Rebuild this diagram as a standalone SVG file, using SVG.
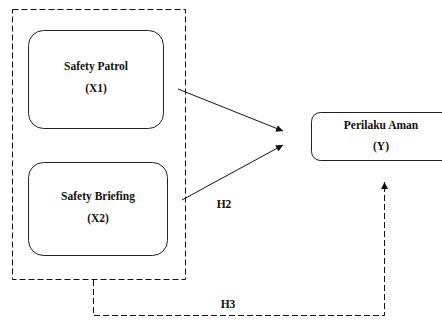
<svg xmlns="http://www.w3.org/2000/svg" width="442" height="320" viewBox="0 0 442 320">
  <style>
    .node { fill: #ffffff; stroke: #222222; stroke-width: 1; }
    .lbl { font-family: "Liberation Serif", "Times New Roman", serif; font-weight: bold; font-size: 11.5px; fill: #111111; text-anchor: middle; }
    .edge { fill: none; stroke: #111111; stroke-width: 1; }
    .dash { fill: none; stroke: #111111; stroke-width: 1; stroke-dasharray: 6,3; }
  </style>
  <defs>
    <marker id="arrow" viewBox="0 0 10 10" refX="10" refY="5" markerWidth="7" markerHeight="7" markerUnits="userSpaceOnUse" orient="auto">
      <path d="M0,0 L10,5 L0,10 Z" fill="#111111"/>
    </marker>
  </defs>
  <rect width="442" height="320" fill="#ffffff"/>

  <!-- dashed grouping frame around the independent variables -->
  <g id="group-x">
    <rect class="dash" x="12.5" y="9.5" width="173" height="270"/>
  </g>

  <g id="node-x1">
    <rect class="node" x="28.5" y="30.5" width="135" height="98" rx="15"/>
    <text class="lbl" x="96" y="70">Safety Patrol</text>
    <text class="lbl" x="96" y="92">(X1)</text>
  </g>

  <g id="node-x2">
    <rect class="node" x="28.5" y="162.5" width="139" height="93" rx="15"/>
    <text class="lbl" x="98" y="200">Safety Briefing</text>
    <text class="lbl" x="98" y="222">(X2)</text>
  </g>

  <g id="node-y">
    <rect class="node" x="311.5" y="112.5" width="140" height="48" rx="9"/>
    <text class="lbl" x="381" y="129">Perilaku Aman</text>
    <text class="lbl" x="381" y="150">(Y)</text>
  </g>

  <g id="connectors">
    <line class="edge" x1="178" y1="89" x2="283" y2="131" marker-end="url(#arrow)"/>
    <line class="edge" x1="182" y1="200" x2="283" y2="145" marker-end="url(#arrow)"/>
    <polyline class="dash" points="93.5,280 93.5,315.5 384.5,315.5 384.5,182" marker-end="url(#arrow)"/>
  </g>

  <g id="edge-labels">
    <text class="lbl" x="224" y="208">H2</text>
    <text class="lbl" x="228" y="308">H3</text>
  </g>
</svg>
